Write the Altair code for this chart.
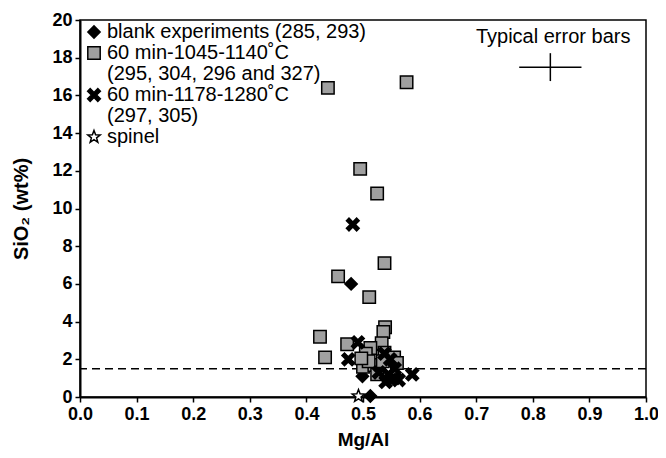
import altair as alt
import pandas as pd

series_names = [
    "blank experiments (285, 293)",
    "60 min-1045-1140˚C",
    "60 min-1178-1280˚C",
    "spinel",
]
legend_lines = [
    "blank experiments (285, 293)",
    "60 min-1045-1140˚C",
    "(295, 304, 296 and 327)",
    "60 min-1178-1280˚C",
    "(297, 305)",
    "spinel",
]

blank_x = [0.479, 0.515, 0.499, 0.513, 0.507]
blank_y = [6.0, 2.5, 1.1, 0.05, 1.9]

low_x = [0.438, 0.577, 0.495, 0.525, 0.538, 0.456, 0.511, 0.539, 0.536, 0.424,
         0.472, 0.533, 0.433, 0.513, 0.538, 0.505, 0.500, 0.520, 0.525, 0.555,
         0.560, 0.535, 0.510, 0.497]
low_y = [16.4, 16.7, 12.1, 10.8, 7.1, 6.4, 5.3, 3.7, 3.45, 3.2,
         2.8, 2.85, 2.1, 2.6, 2.35, 2.3, 1.6, 1.7, 1.2, 2.1,
         1.8, 1.9, 1.9, 2.05]

high_x = [0.482, 0.491, 0.474, 0.538, 0.548, 0.556, 0.540, 0.555, 0.563, 0.587,
          0.528, 0.545]
high_y = [9.15, 2.9, 2.0, 2.3, 2.0, 1.5, 0.8, 1.0, 0.9, 1.2,
          1.3, 1.2]

spinel_x = [0.492]
spinel_y = [0.05]

detection_limit = [1.5]

err_center_x = [0.831]
err_center_y = [17.5]
err_half_x = [0.055]
err_half_y = [0.74]
err_label = ["Typical error bars"]
err_label_x = [0.836]
err_label_y = [19.1]

rows = []
for name, xs, ys in zip(series_names,
                        [blank_x, low_x, high_x, spinel_x],
                        [blank_y, low_y, high_y, spinel_y]):
    for x, y in zip(xs, ys):
        rows.append({"series": name, "x": x, "y": y})
df = pd.DataFrame(rows)

xpath = ("M-1,-0.6L-0.6,-1L0,-0.4L0.6,-1L1,-0.6L0.4,0L1,0.6L0.6,1L0,0.4"
         "L-0.6,1L-1,0.6L-0.4,0Z")
starpath = ("M0,-1L0.247,-0.34L0.951,-0.309L0.399,0.13L0.588,0.809L0,0.42"
            "L-0.588,0.809L-0.399,0.13L-0.951,-0.309L-0.247,-0.34Z")
empty = "M0,0Z"

FONT = "Liberation Sans"

xscale = alt.Scale(domain=[0, 1], nice=False, zero=False)
yscale = alt.Scale(domain=[0, 20], nice=False)

xaxis = alt.Axis(values=[i / 10 for i in range(11)], format=".1f", title="Mg/Al",
                 grid=False, tickSize=5, labelFontSize=18, labelFontWeight="bold",
                 titleFontSize=19, titleFontWeight="bold", labelPadding=3,
                 titlePadding=7, domainColor="black", domainWidth=2,
                 tickColor="black", tickWidth=1.5, labelColor="black",
                 titleColor="black", labelFont=FONT, titleFont=FONT,
                 labelOverlap=False, labelFlush=False)
yaxis = alt.Axis(values=list(range(0, 21, 2)), title="SiO₂ (wt%)",
                 grid=False, tickSize=5, labelFontSize=18, labelFontWeight="bold",
                 titleFontSize=20, titleFontWeight="bold", labelPadding=3,
                 titlePadding=20, domainColor="black", domainWidth=2,
                 tickColor="black", tickWidth=1.5, labelColor="black",
                 titleColor="black", labelFont=FONT, titleFont=FONT,
                 labelOverlap=False, labelFlush=False)

X = lambda f: alt.X(f, scale=xscale, axis=xaxis)
Y = lambda f: alt.Y(f, scale=yscale, axis=yaxis)

points = alt.Chart(df).mark_point(filled=True, opacity=1, strokeWidth=1.5).encode(
    x=X("x:Q"),
    y=Y("y:Q"),
    shape=alt.Shape("series:N", title=None, scale=alt.Scale(
        domain=legend_lines,
        range=["diamond", "square", empty, xpath, empty, starpath])),
    fill=alt.Fill("series:N", title=None, scale=alt.Scale(
        domain=legend_lines,
        range=["black", "#a0a0a0", "white", "black", "white", "white"])),
    stroke=alt.Stroke("series:N", title=None, scale=alt.Scale(
        domain=legend_lines, range=["black"] * 6)),
    size=alt.Size("series:N", title=None, scale=alt.Scale(
        domain=legend_lines, range=[150, 170, 0, 130, 0, 500])),
)

dl = alt.Chart(pd.DataFrame({"y": detection_limit})).mark_rule(
    color="black", strokeWidth=1.5, strokeDash=[8, 5]).encode(y=Y("y:Q"))

err_df = pd.DataFrame({"cx": err_center_x, "cy": err_center_y,
                       "hx": err_half_x, "hy": err_half_y})
err_h = alt.Chart(err_df).transform_calculate(
    x1="datum.cx - datum.hx", xb="datum.cx + datum.hx").mark_rule(
    color="black", strokeWidth=1.5).encode(x=X("x1:Q"), x2="xb:Q", y=Y("cy:Q"))
err_v = alt.Chart(err_df).transform_calculate(
    y1="datum.cy - datum.hy", yb="datum.cy + datum.hy").mark_rule(
    color="black", strokeWidth=1.5).encode(x=X("cx:Q"), y=Y("y1:Q"), y2="yb:Q")

err_text = alt.Chart(pd.DataFrame({"t": err_label, "x": err_label_x,
                                   "y": err_label_y})).mark_text(
    fontSize=20, font=FONT, color="black", align="center",
    baseline="middle").encode(x=X("x:Q"), y=Y("y:Q"), text="t:N")

chart = alt.layer(dl, err_h, err_v, err_text, points).properties(
    width=566, height=377,
    autosize=alt.AutoSizeParams(type="none"),
    padding={"left": 72, "top": 12, "right": 12, "bottom": 53},
    background="white",
).configure_view(stroke="black", strokeWidth=1.5).configure_legend(
    orient="none", legendX=4, legendY=2, labelFontSize=20, labelFont=FONT,
    labelColor="black", rowPadding=1, labelOffset=3, padding=0,
    labelLimit=0, symbolStrokeWidth=1.5, symbolOpacity=1,
)

chart.save("out.html", embed_options={"renderer": "svg", "actions": False})
